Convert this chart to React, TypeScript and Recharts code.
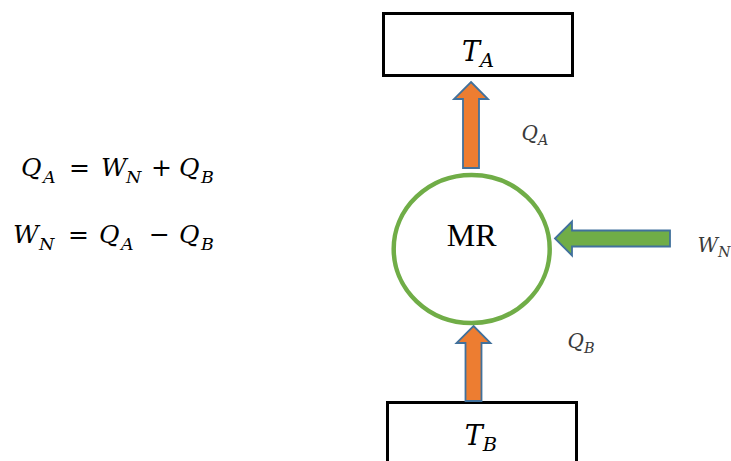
import React from "react";
import { ScatterChart, Scatter, XAxis, YAxis, ReferenceArea } from "recharts";

// Diagram coordinate system (units match the 731 x 461 canvas)
const W = 731;
const H = 461;

// Reservoir boxes
const boxes = [
  { name: "TA", x1: 383.5, x2: 572.5, y1: 13.5, y2: 75.5 },
  { name: "TB", x1: 387.5, x2: 576.5, y1: 402.5, y2: 490 },
];

// Machine (ellipse centre)
const machine = [{ x: 471.7, y: 249, label: "MR" }];

// Heat / work flow arrows: tip point, direction, length
const arrows = [
  { name: "QA", x: 471, y: 82, dir: "up", len: 86, fill: "#ED7D31" },
  { name: "QB", x: 473.5, y: 326, dir: "up", len: 75, fill: "#ED7D31" },
  { name: "WN", x: 555, y: 238.5, dir: "left", len: 115, fill: "#70AD47" },
];

// Math labels: main letter + subscript, anchor position
const boxLabels = [
  { x: 478, y: 61, main: "T", sub: "A" },
  { x: 481, y: 445, main: "T", sub: "B" },
];
const flowLabels = [
  { x: 535, y: 140, main: "Q", sub: "A" },
  { x: 714, y: 252, main: "W", sub: "N" },
  { x: 581, y: 348, main: "Q", sub: "B" },
];

// Equations: [text, isSubscript, isUpright]
const eq1: [string, boolean, boolean][] = [
  ["Q", false, false], ["A", true, false], ["=", false, true],
  ["W", false, false], ["N", true, false], ["+", false, true],
  ["Q", false, false], ["B", true, false],
];
const eq2: [string, boolean, boolean][] = [
  ["W", false, false], ["N", true, false], ["=", false, true],
  ["Q", false, false], ["A", true, false], ["\u2212", false, true],
  ["Q", false, false], ["B", true, false],
];
const equations = [
  { x: 21, y: 176, parts: eq1 },
  { x: 13, y: 243, parts: eq2 },
];
// horizontal glyph offsets (layout only) for each equation
const eqOffsets = [
  [0, 22, 48, 80, 105, 130, 158, 180],
  [0, 26, 55, 86, 108, 136, 166, 188],
];

const MATH_FONT = "'DejaVu Serif', serif";
const BLUE = "#41719C";

const ArrowShape = (props: any) => {
  const { cx, cy, payload } = props;
  const head = 17;
  const hw = 17;
  const sw = 8;
  const L = payload.len;
  let pts: number[][];
  if (payload.dir === "up") {
    pts = [
      [cx, cy],
      [cx + hw, cy + head],
      [cx + sw, cy + head],
      [cx + sw, cy + L],
      [cx - sw, cy + L],
      [cx - sw, cy + head],
      [cx - hw, cy + head],
    ];
  } else {
    pts = [
      [cx, cy],
      [cx + head, cy - hw],
      [cx + head, cy - sw],
      [cx + L, cy - sw],
      [cx + L, cy + sw],
      [cx + head, cy + sw],
      [cx + head, cy + hw],
    ];
  }
  return (
    <polygon
      points={pts.map((p) => p.join(",")).join(" ")}
      fill={payload.fill}
      stroke={BLUE}
      strokeWidth={1.8}
      strokeLinejoin="miter"
    />
  );
};

const MachineShape = (props: any) => {
  const { cx, cy, payload } = props;
  return (
    <g>
      <ellipse cx={cx} cy={cy} rx={78} ry={74} fill="#fff" stroke="#70AD47" strokeWidth={4.5} />
      <text
        x={cx}
        y={cy - 3}
        textAnchor="middle"
        fontFamily="'Liberation Serif', 'Times New Roman', serif"
        fontSize={32}
        fill="#000"
      >
        {payload.label}
      </text>
    </g>
  );
};

const makeSubLabel = (size: number, color: string) => (props: any) => {
  const { cx, cy, payload } = props;
  return (
    <text
      x={cx}
      y={cy}
      textAnchor="middle"
      fontFamily={MATH_FONT}
      fontStyle="italic"
      fill={color}
      fontSize={size}
    >
      {payload.main}
      <tspan fontSize={size * 0.72} dy={size * 0.24}>
        {payload.sub}
      </tspan>
    </text>
  );
};

const BoxLabel = makeSubLabel(27, "#000");
const FlowLabel = makeSubLabel(20, "#3a3a3a");

const EquationShape = (props: any) => {
  const { cx, cy, payload, index } = props;
  const size = 25;
  const offs = eqOffsets[index] || [];
  return (
    <text x={cx} y={cy} fontFamily={MATH_FONT} fill="#000">
      {payload.parts.map((p: [string, boolean, boolean], i: number) => {
        const [t, sub, upright] = p;
        return (
          <tspan
            key={i}
            x={cx + (offs[i] || 0)}
            y={cy + (sub ? 7 : 0)}
            fontSize={sub ? 17.5 : size}
            fontStyle={upright ? "normal" : "italic"}
          >
            {t}
          </tspan>
        );
      })}
    </text>
  );
};

export default function App() {
  return (
    <div style={{ position: "absolute", left: 0, top: 0, background: "#fff" }}>
      <ScatterChart width={W} height={H} margin={{ top: 0, right: 0, bottom: 0, left: 0 }}>
        <XAxis type="number" dataKey="x" domain={[0, W]} hide allowDataOverflow />
        <YAxis type="number" dataKey="y" domain={[0, H]} reversed hide allowDataOverflow />
        {boxes.map((b) => (
          <ReferenceArea
            key={b.name}
            x1={b.x1}
            x2={b.x2}
            y1={b.y1}
            y2={b.y2}
            fill="#fff"
            fillOpacity={1}
            stroke="#000"
            strokeWidth={3}
            ifOverflow="visible"
          />
        ))}
        <Scatter data={arrows} shape={ArrowShape} isAnimationActive={false} />
        <Scatter data={machine} shape={MachineShape} isAnimationActive={false} />
        <Scatter data={boxLabels} shape={BoxLabel} isAnimationActive={false} />
        <Scatter data={flowLabels} shape={FlowLabel} isAnimationActive={false} />
        <Scatter data={equations} shape={EquationShape} isAnimationActive={false} />
      </ScatterChart>
    </div>
  );
}
